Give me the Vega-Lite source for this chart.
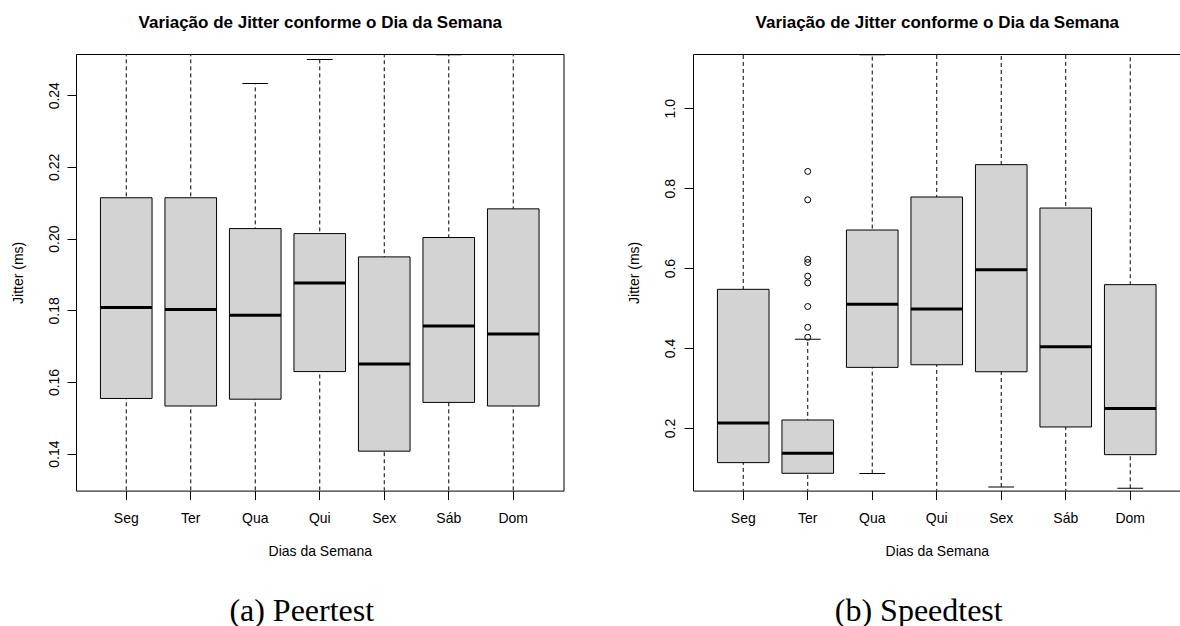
{
  "$schema": "https://vega.github.io/schema/vega-lite/v6.json",
  "padding": {"left": 10, "top": 13, "right": 0, "bottom": 0},
  "bounds": "flush",
  "spacing": 129,
  "config": {
    "font": "Liberation Sans",
    "view": {"stroke": "black", "strokeWidth": 1},
    "axis": {"grid": false, "domain": false, "tickColor": "black", "tickSize": 9, "tickWidth": 1,
      "labelFontSize": 14, "labelColor": "black", "labelFont": "Liberation Sans",
      "titleFontSize": 14, "titleFontWeight": "normal", "titleColor": "black", "titleFont": "Liberation Sans"},
    "axisLeft": {"labelAngle": -90, "labelAlign": "center", "labelBaseline": "alphabetic", "labelPadding": 9, "titlePadding": 22},
    "axisBottom": {"labelAngle": 0, "labelPadding": 12, "titlePadding": 19},
    "axisTop": {"labels": false, "ticks": false, "titleFontSize": 17, "titleFontWeight": "bold", "titleBaseline": "alphabetic", "titlePadding": 26},
    "tick": {"opacity": 1},
    "point": {"opacity": 1},
    "title": {"font": "Liberation Serif", "fontSize": 32, "fontWeight": "normal", "color": "black",
      "orient": "bottom", "frame": "group", "dx": -18, "offset": 37}
  },
  "datasets": {
    "peer": [
      {"dia": "Seg", "lo": 0.12, "q1": 0.1554, "med": 0.1808, "q3": 0.2114, "hi": 0.27},
      {"dia": "Ter", "lo": 0.12, "q1": 0.1533, "med": 0.1802, "q3": 0.2114, "hi": 0.27},
      {"dia": "Qua", "lo": 0.12, "q1": 0.1552, "med": 0.1786, "q3": 0.2028, "hi": 0.2433},
      {"dia": "Qui", "lo": 0.12, "q1": 0.1629, "med": 0.1876, "q3": 0.2014, "hi": 0.25},
      {"dia": "Sex", "lo": 0.11, "q1": 0.1407, "med": 0.165, "q3": 0.1949, "hi": 0.26},
      {"dia": "Sáb", "lo": 0.12, "q1": 0.1543, "med": 0.1756, "q3": 0.2003, "hi": 0.2513},
      {"dia": "Dom", "lo": 0.12, "q1": 0.1533, "med": 0.1734, "q3": 0.2083, "hi": 0.27}
    ],
    "speed": [
      {"dia": "Seg", "lo": 0.02, "q1": 0.1133, "med": 0.2125, "q3": 0.547, "hi": 1.2},
      {"dia": "Ter", "lo": 0.02, "q1": 0.0866, "med": 0.1367, "q3": 0.22, "hi": 0.4218},
      {"dia": "Qua", "lo": 0.0859, "q1": 0.3517, "med": 0.5094, "q3": 0.6954, "hi": 1.134},
      {"dia": "Qui", "lo": 0.02, "q1": 0.3582, "med": 0.4977, "q3": 0.778, "hi": 1.2},
      {"dia": "Sex", "lo": 0.0523, "q1": 0.3407, "med": 0.5957, "q3": 0.859, "hi": 1.2},
      {"dia": "Sáb", "lo": 0.02, "q1": 0.2025, "med": 0.4033, "q3": 0.7504, "hi": 1.2},
      {"dia": "Dom", "lo": 0.0491, "q1": 0.1332, "med": 0.2486, "q3": 0.5587, "hi": 1.2}
    ],
    "speed_out": [
      {"dia": "Ter", "valor": 0.842},
      {"dia": "Ter", "valor": 0.771},
      {"dia": "Ter", "valor": 0.622},
      {"dia": "Ter", "valor": 0.614},
      {"dia": "Ter", "valor": 0.58},
      {"dia": "Ter", "valor": 0.563},
      {"dia": "Ter", "valor": 0.504},
      {"dia": "Ter", "valor": 0.452},
      {"dia": "Ter", "valor": 0.427}
    ]
  },
  "hconcat": [
    {
      "width": 487.5,
      "height": 436.6,
      "title": {"text": "(a) Peertest"},
      "data": {"name": "peer"},
      "layer": [
        {
          "mark": {"type": "rule", "strokeDash": [4, 3], "color": "black", "strokeWidth": 1, "clip": true},
          "encoding": {
            "x": {"field": "dia", "type": "nominal", "sort": ["Seg", "Ter", "Qua", "Qui", "Sex", "Sáb", "Dom"],
              "scale": {"paddingInner": 0, "paddingOuter": 0.279},
              "axis": {"orient": "bottom", "title": "Dias da Semana"}},
            "y": {"field": "lo", "type": "quantitative", "scale": {"domain": [0.1297, 0.2515], "nice": false, "zero": false},
              "axis": {"title": "Jitter (ms)", "values": [0.14, 0.16, 0.18, 0.2, 0.22, 0.24], "format": ".2f"}},
            "y2": {"field": "hi"}
          }
        },
        {
          "mark": {"type": "bar", "width": {"band": 0.8}, "fill": "#D3D3D3", "stroke": "black", "strokeWidth": 1},
          "encoding": {
            "x": {"field": "dia", "type": "nominal", "sort": ["Seg", "Ter", "Qua", "Qui", "Sex", "Sáb", "Dom"],
              "axis": {"orient": "top", "title": "Variação de Jitter conforme o Dia da Semana"}},
            "y": {"field": "q1", "type": "quantitative", "scale": {"domain": [0.1297, 0.2515], "nice": false, "zero": false},
              "axis": {"title": "Jitter (ms)", "values": [0.14, 0.16, 0.18, 0.2, 0.22, 0.24], "format": ".2f"}},
            "y2": {"field": "q3"}
          }
        },
        {
          "mark": {"type": "tick", "size": 51.6, "thickness": 3, "color": "black"},
          "encoding": {
            "x": {"field": "dia", "type": "nominal", "sort": ["Seg", "Ter", "Qua", "Qui", "Sex", "Sáb", "Dom"], "axis": null},
            "y": {"field": "med", "type": "quantitative", "scale": {"domain": [0.1297, 0.2515], "nice": false, "zero": false},
              "axis": {"title": "Jitter (ms)", "values": [0.14, 0.16, 0.18, 0.2, 0.22, 0.24], "format": ".2f"}}
          }
        },
        {
          "mark": {"type": "tick", "size": 25.8, "thickness": 1, "color": "black", "clip": true},
          "encoding": {
            "x": {"field": "dia", "type": "nominal", "sort": ["Seg", "Ter", "Qua", "Qui", "Sex", "Sáb", "Dom"], "axis": null},
            "y": {"field": "hi", "type": "quantitative", "scale": {"domain": [0.1297, 0.2515], "nice": false, "zero": false},
              "axis": {"title": "Jitter (ms)", "values": [0.14, 0.16, 0.18, 0.2, 0.22, 0.24], "format": ".2f"}}
          }
        },
        {
          "mark": {"type": "tick", "size": 25.8, "thickness": 1, "color": "black", "clip": true},
          "encoding": {
            "x": {"field": "dia", "type": "nominal", "sort": ["Seg", "Ter", "Qua", "Qui", "Sex", "Sáb", "Dom"], "axis": null},
            "y": {"field": "lo", "type": "quantitative", "scale": {"domain": [0.1297, 0.2515], "nice": false, "zero": false},
              "axis": {"title": "Jitter (ms)", "values": [0.14, 0.16, 0.18, 0.2, 0.22, 0.24], "format": ".2f"}}
          }
        }
      ]
    },
    {
      "width": 487.5,
      "height": 436.6,
      "title": {"text": "(b) Speedtest"},
      "layer": [
        {
          "data": {"name": "speed"},
          "mark": {"type": "rule", "strokeDash": [4, 3], "color": "black", "strokeWidth": 1, "clip": true},
          "encoding": {
            "x": {"field": "dia", "type": "nominal", "sort": ["Seg", "Ter", "Qua", "Qui", "Sex", "Sáb", "Dom"],
              "scale": {"paddingInner": 0, "paddingOuter": 0.279},
              "axis": {"orient": "bottom", "title": "Dias da Semana"}},
            "y": {"field": "lo", "type": "quantitative", "scale": {"domain": [0.0433, 1.1359], "nice": false, "zero": false},
              "axis": {"title": "Jitter (ms)", "values": [0.2, 0.4, 0.6, 0.8, 1.0], "format": ".1f"}},
            "y2": {"field": "hi"}
          }
        },
        {
          "data": {"name": "speed"},
          "mark": {"type": "bar", "width": {"band": 0.8}, "fill": "#D3D3D3", "stroke": "black", "strokeWidth": 1},
          "encoding": {
            "x": {"field": "dia", "type": "nominal", "sort": ["Seg", "Ter", "Qua", "Qui", "Sex", "Sáb", "Dom"],
              "axis": {"orient": "top", "title": "Variação de Jitter conforme o Dia da Semana"}},
            "y": {"field": "q1", "type": "quantitative", "scale": {"domain": [0.0433, 1.1359], "nice": false, "zero": false},
              "axis": {"title": "Jitter (ms)", "values": [0.2, 0.4, 0.6, 0.8, 1.0], "format": ".1f"}},
            "y2": {"field": "q3"}
          }
        },
        {
          "data": {"name": "speed"},
          "mark": {"type": "tick", "size": 51.6, "thickness": 3, "color": "black"},
          "encoding": {
            "x": {"field": "dia", "type": "nominal", "sort": ["Seg", "Ter", "Qua", "Qui", "Sex", "Sáb", "Dom"], "axis": null},
            "y": {"field": "med", "type": "quantitative", "scale": {"domain": [0.0433, 1.1359], "nice": false, "zero": false},
              "axis": {"title": "Jitter (ms)", "values": [0.2, 0.4, 0.6, 0.8, 1.0], "format": ".1f"}}
          }
        },
        {
          "data": {"name": "speed"},
          "mark": {"type": "tick", "size": 25.8, "thickness": 1, "color": "black", "clip": true},
          "encoding": {
            "x": {"field": "dia", "type": "nominal", "sort": ["Seg", "Ter", "Qua", "Qui", "Sex", "Sáb", "Dom"], "axis": null},
            "y": {"field": "hi", "type": "quantitative", "scale": {"domain": [0.0433, 1.1359], "nice": false, "zero": false},
              "axis": {"title": "Jitter (ms)", "values": [0.2, 0.4, 0.6, 0.8, 1.0], "format": ".1f"}}
          }
        },
        {
          "data": {"name": "speed"},
          "mark": {"type": "tick", "size": 25.8, "thickness": 1, "color": "black", "clip": true},
          "encoding": {
            "x": {"field": "dia", "type": "nominal", "sort": ["Seg", "Ter", "Qua", "Qui", "Sex", "Sáb", "Dom"], "axis": null},
            "y": {"field": "lo", "type": "quantitative", "scale": {"domain": [0.0433, 1.1359], "nice": false, "zero": false},
              "axis": {"title": "Jitter (ms)", "values": [0.2, 0.4, 0.6, 0.8, 1.0], "format": ".1f"}}
          }
        },
        {
          "data": {"name": "speed_out"},
          "mark": {"type": "point", "filled": false, "size": 36, "color": "black", "strokeWidth": 1},
          "encoding": {
            "x": {"field": "dia", "type": "nominal", "sort": ["Seg", "Ter", "Qua", "Qui", "Sex", "Sáb", "Dom"], "axis": null},
            "y": {"field": "valor", "type": "quantitative", "scale": {"domain": [0.0433, 1.1359], "nice": false, "zero": false},
              "axis": {"title": "Jitter (ms)", "values": [0.2, 0.4, 0.6, 0.8, 1.0], "format": ".1f"}}
          }
        }
      ]
    }
  ]
}
